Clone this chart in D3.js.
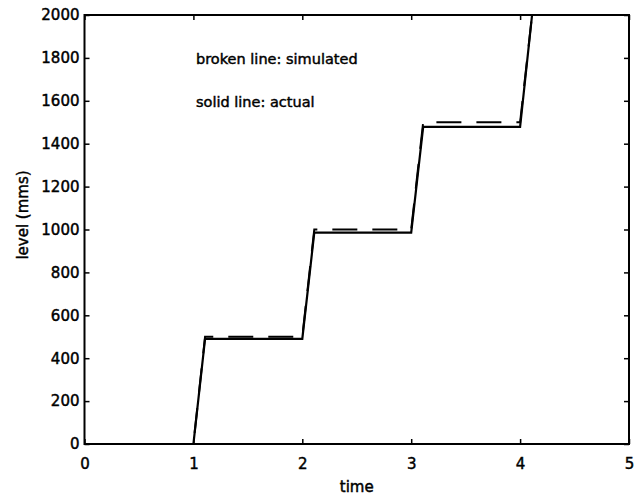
<!DOCTYPE html>
<html>
<head>
<meta charset="utf-8">
<script src="https://cdn.jsdelivr.net/npm/d3@7"></script>
<style>
  body { margin: 0; background: #fff; }
  svg text { font-family: "DejaVu Sans", sans-serif; fill: #000; stroke: #000; stroke-width: 0.45px; }
</style>
</head>
<body>
<div id="chart"></div>
<script>
// data
const times = [0, 1.0, 1.107, 2.0, 2.11, 3.0, 3.11, 4.0, 4.11, 5];
const actual = [0, 0, 490, 490, 985, 985, 1478, 1478, 2000, 2000];
const simulated = [0, 0, 500, 500, 1000, 1000, 1500, 1500, 2000, 2000];
const xTicks = [0, 1, 2, 3, 4, 5];
const yTicks = [0, 200, 400, 600, 800, 1000, 1200, 1400, 1600, 1800, 2000];
const notes = ['broken line: simulated', 'solid line: actual'];

const W = 644, H = 496;
const margin = {top: 15, right: 15, bottom: 52, left: 84.5};

const svg = d3.select('#chart')
    .append('svg')
    .attr('width', W)
    .attr('height', H);

const x = d3.scaleLinear().domain([0, 5]).range([margin.left, W - margin.right]);
const y = d3.scaleLinear().domain([0, 2000]).range([H - margin.bottom, margin.top]);

svg.append('clipPath').attr('id', 'plot')
    .append('rect')
    .attr('x', x(0)).attr('y', y(2000))
    .attr('width', x(5) - x(0)).attr('height', y(0) - y(2000));

const line = vals => d3.line()
    .x((d, i) => x(times[i]))
    .y(d => y(d))(vals);

// simulated (dashed) under the actual (solid)
svg.append('path')
    .attr('d', line(simulated))
    .attr('clip-path', 'url(#plot)')
    .style('fill', 'none')
    .style('stroke', '#000')
    .style('stroke-width', 2)
    .style('stroke-dasharray', '25,15');

svg.append('path')
    .attr('d', line(actual))
    .attr('clip-path', 'url(#plot)')
    .style('fill', 'none')
    .style('stroke', '#000')
    .style('stroke-width', 2.2);

// axes, ticks pointing inward on all sides
const styleAxis = g => {
    g.select('.domain').remove();
    g.selectAll('line').style('stroke', '#000').style('stroke-width', 1.5);
    g.selectAll('text').style('font-size', '15px');
};

svg.append('g')
    .attr('transform', `translate(0,${y(0)})`)
    .call(d3.axisBottom(x).tickValues(xTicks).tickFormat(d3.format('d'))
        .tickSizeInner(-5).tickSizeOuter(0).tickPadding(14))
    .call(styleAxis);

svg.append('g')
    .attr('transform', `translate(${x(0)},0)`)
    .call(d3.axisLeft(y).tickValues(yTicks).tickFormat(d3.format('d'))
        .tickSizeInner(-5).tickSizeOuter(0).tickPadding(5))
    .call(styleAxis);

svg.append('g')
    .attr('transform', `translate(0,${y(2000)})`)
    .call(d3.axisTop(x).tickValues(xTicks).tickSizeInner(-5).tickSizeOuter(0).tickFormat(''))
    .call(styleAxis);

svg.append('g')
    .attr('transform', `translate(${x(5)},0)`)
    .call(d3.axisRight(y).tickValues(yTicks).tickSizeInner(-5).tickSizeOuter(0).tickFormat(''))
    .call(styleAxis);

// box
svg.append('rect')
    .attr('x', x(0)).attr('y', y(2000))
    .attr('width', x(5) - x(0)).attr('height', y(0) - y(2000))
    .style('fill', 'none')
    .style('stroke', '#000')
    .style('stroke-width', 2);

// labels
svg.append('text')
    .attr('x', (x(0) + x(5)) / 2)
    .attr('y', 492)
    .attr('text-anchor', 'middle')
    .style('font-size', '15px')
    .text('time');

svg.append('text')
    .attr('transform', 'translate(28,215) rotate(-90)')
    .attr('text-anchor', 'middle')
    .style('font-size', '15px')
    .text('level (mms)');

svg.selectAll('.note')
    .data(notes)
    .enter().append('text')
    .attr('class', 'note')
    .attr('x', 196)
    .attr('y', (d, i) => 64 + i * 43)
    .style('font-size', '14.5px')
    .text(d => d);
</script>
</body>
</html>
